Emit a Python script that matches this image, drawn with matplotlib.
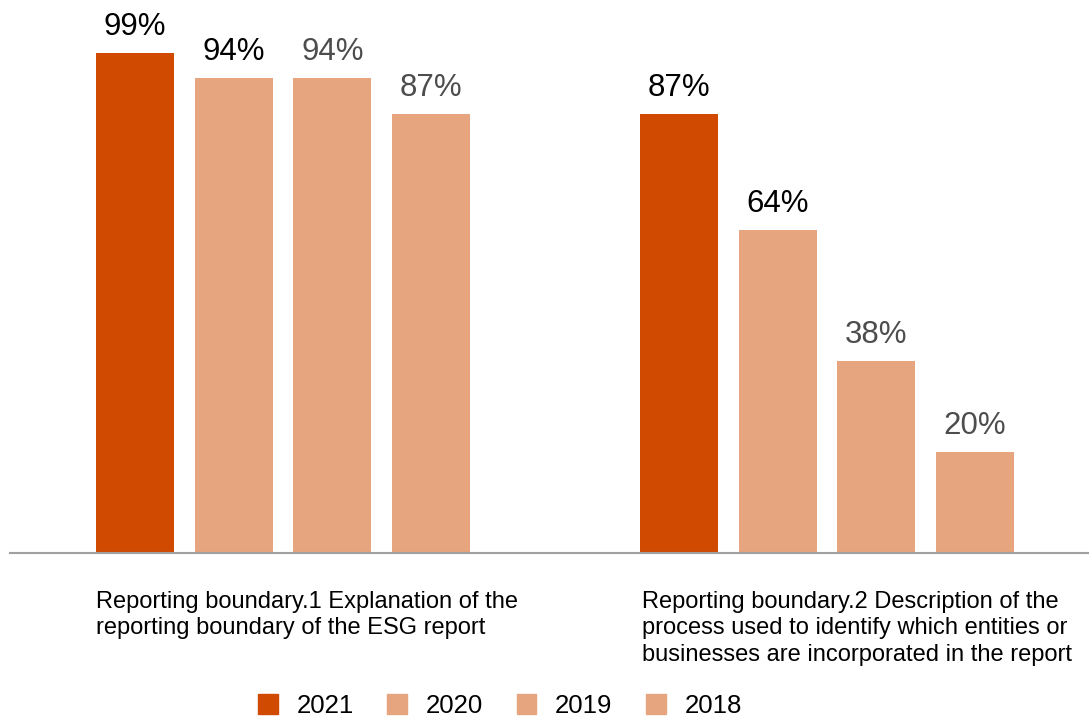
import matplotlib
matplotlib.use("Agg")
import matplotlib.pyplot as plt
from matplotlib.patches import Patch

plt.rcParams['font.family'] = ['Liberation Sans', 'DejaVu Sans']

# data
groups = ['Reporting boundary.1 Explanation of the\nreporting boundary of the ESG report',
          'Reporting boundary.2 Description of the\nprocess used to identify which entities or\nbusinesses are incorporated in the report']
years = ['2021', '2020', '2019', '2018']
values = {
    '2021': [99, 87],
    '2020': [94, 64],
    '2019': [94, 38],
    '2018': [87, 20],
}

bar_colors = ['#D04A02', '#E6A47F', '#E6A47F', '#E6A47F']
label_colors = ['#000000', '#000000', '#4D4D4D', '#4D4D4D']

W, H = 1089, 720
fig = plt.figure(figsize=(W / 100, H / 100), dpi=100)
ax = fig.add_axes([10 / W, 1 - 553 / H, 1 - 10 / W, 553 / H])

step = 98.7 / 544
width = 78 / 544
for i, yr in enumerate(years):
    xs = [g + (i - 1.5) * step for g in range(len(groups))]
    bars = ax.bar(xs, values[yr], width=width, color=bar_colors[i], label=yr)
    for b, v in zip(bars, values[yr]):
        ax.annotate(f'{v}%', xy=(b.get_x() + b.get_width() / 2, v),
                    xytext=(0, 13), textcoords='offset points',
                    ha='center', va='baseline', fontsize=22.5,
                    color=label_colors[i])

ax.set_xlim((10 - 283) / 544, (1089 - 283) / 544)
ax.set_ylim(0, 553 / 5.05)
for s in ['top', 'right', 'left']:
    ax.spines[s].set_visible(False)
ax.spines['bottom'].set_color('#A0A0A0')
ax.spines['bottom'].set_linewidth(1.5)
ax.set_xticks([])
ax.set_yticks([])

# category labels under the groups
for gx, txt in zip([96, 642], groups):
    fig.text(gx / W, 1 - 591 / H, txt, ha='left', va='top', fontsize=17,
             linespacing=1.26, color='#000000')

handles = [Patch(color=c, label=y) for c, y in zip(bar_colors, years)]
fig.legend(handles=handles, loc='center', bbox_to_anchor=(500 / W, 1 - 706 / H),
           ncol=4, frameon=False, fontsize=18.5, handlelength=0.77,
           handleheight=0.77, handletextpad=0.73, columnspacing=1.3)

fig.savefig('out.png', dpi=100)
